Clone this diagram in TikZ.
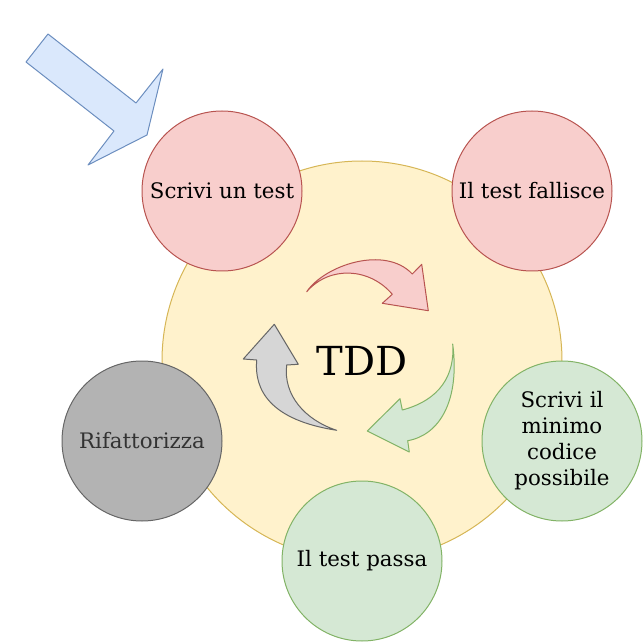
\documentclass[tikz,border=0pt]{standalone}
\usepackage{fontspec}
\setmainfont{DejaVu Serif}
\definecolor{yelF}{HTML}{FFF2CC}
\definecolor{yelD}{HTML}{D6B656}
\definecolor{redF}{HTML}{F8CECC}
\definecolor{redD}{HTML}{B85450}
\definecolor{grnF}{HTML}{D5E8D4}
\definecolor{grnD}{HTML}{82B366}
\definecolor{bluF}{HTML}{DAE8FC}
\definecolor{bluD}{HTML}{6C8EBF}
\definecolor{gryF}{HTML}{B3B3B3}
\definecolor{gryD}{HTML}{666666}
\definecolor{gryT}{HTML}{333333}
\definecolor{arrG}{HTML}{D6D6D6}
\begin{document}
\begin{tikzpicture}[x=0.75pt,y=-0.75pt,line width=0.75pt, line join=round,
  circ/.style={circle,minimum size=120pt,inner sep=0pt,align=center,
    font=\fontsize{16}{19.5}\selectfont,text=black},
  redc/.style={circ,fill=redF,draw=redD},
  grnc/.style={circ,fill=grnF,draw=grnD},
  gryc/.style={circ,fill=gryF,draw=gryD,text=gryT}]
\useasboundingbox (0,0) rectangle (644,642);
% big circle
\node[circle,minimum size=300pt,inner sep=0pt,fill=yelF,draw=yelD,
  font=\fontsize{30}{36}\selectfont] (tdd) at (362,361) {TDD};
% small circles
\node[redc] (scrivi) at (222,191) {Scrivi un test};
\node[redc] (fallisce) at (532,191) {Il test fallisce};
\node[grnc] (minimo) at (562,441) {Scrivi il\\minimo\\codice\\possibile};
\node[grnc] (passa) at (362,561) {Il test passa};
\node[gryc] (rifatt) at (142,441) {Rifattorizza};
% blue arrow
\draw[fill=bluF,draw=bluD] (48,34) -- (136,103) -- (163,69) -- (147,135)
  -- (88,165) -- (114,131) -- (26,62) -- cycle;
% red curved arrow
\draw[fill=redF,draw=redD] (306.7,291.7) .. controls (325,265) and (385,245) .. (412.3,274)
  -- (421.7,264.3) -- (428.3,310.7) -- (382.3,303.3) -- (392.3,294.3)
  .. controls (370,268) and (330,265) .. (306.7,291.7) -- cycle;
% green curved arrow
\draw[fill=grnF,draw=grnD] (452.7,344) .. controls (460,400) and (440,435) .. (407.7,440.7)
  -- (409.3,452) -- (367.3,431) -- (400,398.7) -- (402.3,410)
  .. controls (440,400) and (455,375) .. (452.7,344) -- cycle;
% gray curved arrow
\draw[fill=arrG,draw=gryD] (274.3,324.3) -- (298.3,364.3) -- (286.7,365)
  .. controls (283,395) and (305,420) .. (336.7,430.3)
  .. controls (270,420) and (254,390) .. (256.7,360)
  -- (243.3,359) -- cycle;
\end{tikzpicture}
\end{document}
